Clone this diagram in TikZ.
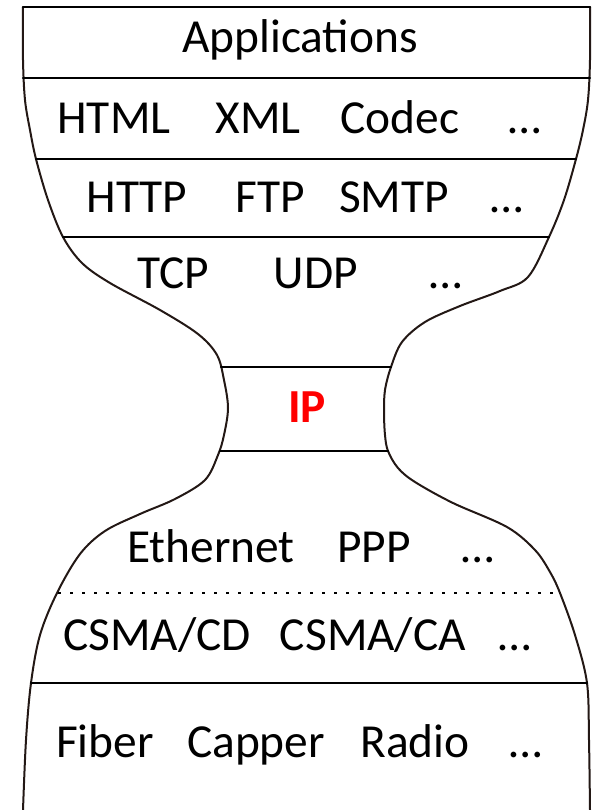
\documentclass[tikz,border=0pt]{standalone}
\usepackage{fontspec}
\setmainfont{Carlito}
\usetikzlibrary{positioning}
\definecolor{rimcol}{RGB}{35,24,21}
\definecolor{ipred}{RGB}{255,0,0}

\begin{document}
\begin{tikzpicture}[x=0.5pt,y=-0.5pt,line cap=round,line join=round,
  lbl/.style={anchor=base,inner sep=0pt,font=\fontsize{23.7}{28}\selectfont},
  rim/.style={draw=rimcol,line width=1pt},
  sep/.style={draw=black,line width=1.1pt},
  dotsep/.style={draw=black,line width=1.3pt,line cap=butt,dash pattern=on 1.3pt off 4.7pt}]
\path[use as bounding box] (0,0) rectangle (591,810);
% outline of the hourglass
\draw[rim] plot[smooth,tension=0.55] coordinates {(23,7) (23,60) (25,100) (30,130) (36,159) (48,200) (63,237) (82,263) (110,283) (160,310) (198,334) (217,355) (224,380) (228,408) (224,435) (218,455) (205,480) (175,499) (140,514) (105,531) (80,554) (57,593) (40,635) (31,683) (26,740) (23,810)};
\draw[rim] plot[smooth,tension=0.55] coordinates {(590,7) (590,60) (588,100) (583,130) (576,159) (564,200) (549,237) (528,277) (500,291) (460,306) (425,322) (402,342) (391,367) (385,390) (384,412) (385,435) (388,451) (398,468) (415,482) (453,503) (507,527) (535,550) (550,572) (560,593) (575,635) (587,683) (589,740) (590,810)};
% layer borders
\draw[sep] (23,7) -- (590,7);
\draw[sep] (23,78) -- (590,78);
\draw[sep] (36,159) -- (576,159);
\draw[sep] (63,237) -- (549,237);
\draw[sep] (221,367) -- (391,367);
\draw[sep] (220,451) -- (388,451);
\draw[dotsep] (58,593) -- (560,593);
\draw[sep] (31,683) -- (587,683);
% labels
\node[lbl] (app) at (300,52) {Applications};
\node[lbl] (html) at (114,133) {HTML};
\node[lbl] (xml) at (258,133) {XML};
\node[lbl] (codec) at (400,133) {Codec};
\node[lbl] (moreA) at (525,133) {…};
\node[lbl] (http) at (137,212) {HTTP};
\node[lbl] (ftp) at (270,212) {FTP};
\node[lbl] (smtp) at (394,212) {SMTP};
\node[lbl] (moreB) at (507,212) {…};
\node[lbl] (tcp) at (173,288) {TCP};
\node[lbl] (udp) at (316,288) {UDP};
\node[lbl] (moreC) at (446,288) {…};
\node[lbl,text=ipred,font=\fontsize{23.7}{28}\selectfont\bfseries] (ip) at (307,422) {IP};
\node[lbl] (eth) at (211,562) {Ethernet};
\node[lbl] (ppp) at (374,562) {PPP};
\node[lbl] (moreD) at (478,562) {…};
\node[lbl] (cd) at (157,650) {CSMA/CD};
\node[lbl] (ca) at (373,650) {CSMA/CA};
\node[lbl] (moreE) at (515,650) {…};
\node[lbl] (fiber) at (105,757) {Fiber};
\node[lbl] (capper) at (256,757) {Capper};
\node[lbl] (radio) at (415,757) {Radio};
\node[lbl] (moreF) at (526,757) {…};
\end{tikzpicture}
\end{document}
